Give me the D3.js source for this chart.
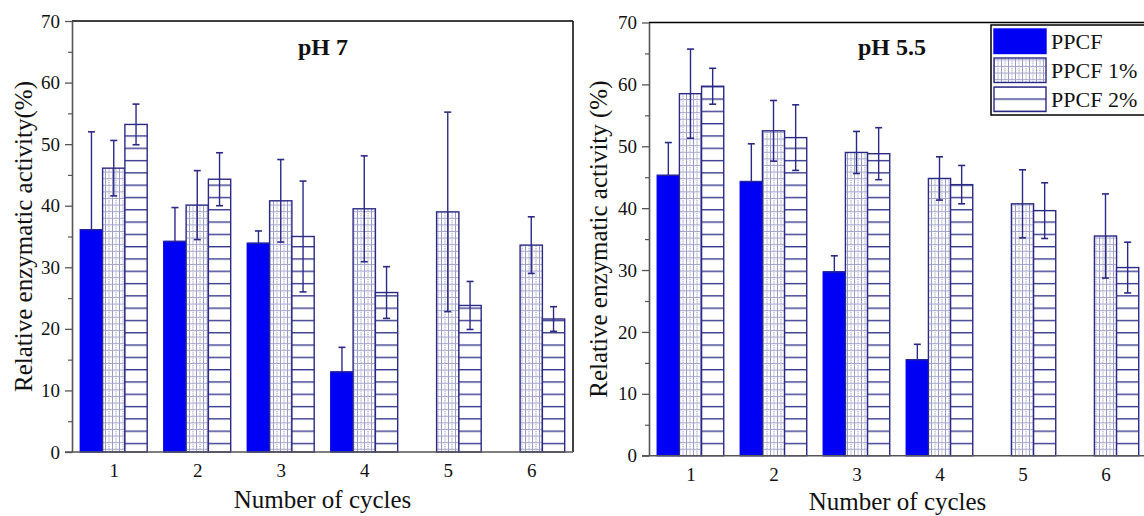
<!DOCTYPE html>
<html>
<head>
<meta charset="utf-8">
<script src="https://cdn.jsdelivr.net/npm/d3@7"></script>
<style>
  html, body { margin: 0; padding: 0; background: #fff; }
  svg { display: block; }
  text { font-family: "Liberation Serif", "Times New Roman", serif; fill: #111; }
</style>
</head>
<body>
<svg id="chart" width="1144" height="516"></svg>
<script>
// Reuse cycles on the x axis
const cycles = [1, 2, 3, 4, 5, 6];
const yTicks = [0, 10, 20, 30, 40, 50, 60, 70];
const seriesNames = ["PPCF", "PPCF 1%", "PPCF 2%"];

// Relative enzymatic activity (%) at pH 7 — mean and error
const ph7_ppcf      = [36.1, 34.2, 33.9, 13.0, null, null];
const ph7_ppcf_err  = [15.9, 5.5, 2.0, 4.0, null, null];
const ph7_ppcf1     = [46.1, 40.1, 40.8, 39.5, 39.0, 33.6];
const ph7_ppcf1_err = [4.5, 5.6, 6.7, 8.6, 16.2, 4.6];
const ph7_ppcf2     = [53.2, 44.3, 35.0, 25.9, 23.8, 21.6];
const ph7_ppcf2_err = [3.3, 4.3, 9.0, 4.2, 3.9, 2.0];

// Relative enzymatic activity (%) at pH 5.5 — mean and error
const ph55_ppcf      = [45.3, 44.3, 29.7, 15.5, null, null];
const ph55_ppcf_err  = [5.3, 6.1, 2.6, 2.5, null, null];
const ph55_ppcf1     = [58.5, 52.5, 49.0, 44.8, 40.7, 35.5];
const ph55_ppcf1_err = [7.2, 4.9, 3.4, 3.5, 5.5, 6.8];
const ph55_ppcf2     = [59.7, 51.4, 48.8, 43.8, 39.6, 30.4];
const ph55_ppcf2_err = [2.9, 5.3, 4.2, 3.1, 4.5, 4.1];

const NAVY = "#2a2a86";
const BLUE = "#0000f5";
const AXIS = "#555";

const svg = d3.select("#chart");
svg.append("rect").attr("width", 1144).attr("height", 516).attr("fill", "#fff");

// Fill patterns
const defs = svg.append("defs");
const grid = defs.append("pattern").attr("id", "pat-grid")
  .attr("patternUnits", "userSpaceOnUse").attr("width", 7).attr("height", 6.6);
grid.append("rect").attr("width", 7).attr("height", 6.6).attr("fill", "#fff");
grid.append("line").attr("x1", 0.5).attr("x2", 0.5).attr("y1", 0).attr("y2", 6.6)
  .attr("stroke", "#9a9ac6").attr("stroke-width", 1);
grid.append("line").attr("x1", 4).attr("x2", 4).attr("y1", 0).attr("y2", 6.6)
  .attr("stroke", "#6a6a9c").attr("stroke-width", 0.8).attr("stroke-dasharray", "1,1");
grid.append("line").attr("x1", 0).attr("x2", 7).attr("y1", 0.5).attr("y2", 0.5)
  .attr("stroke", "#a4a4cc").attr("stroke-width", 1);

const hatch = defs.append("pattern").attr("id", "pat-hline")
  .attr("patternUnits", "userSpaceOnUse").attr("width", 10).attr("height", 12.3);
hatch.append("rect").attr("width", 10).attr("height", 12.3).attr("fill", "#fff");
hatch.append("line").attr("x1", 0).attr("x2", 10).attr("y1", 0.7).attr("y2", 0.7)
  .attr("stroke", NAVY).attr("stroke-width", 1.3);

const fills = [BLUE, "url(#pat-grid)", "url(#pat-hline)"];

function panel(opt) {
  const g = svg.append("g");
  const x = d3.scaleLinear().domain([0.5, 6.5]).range([opt.left, opt.right]);
  const y = d3.scaleLinear().domain([0, 70]).range([opt.bottom, opt.top]);
  const bw = x(0.5 + 0.267) - x(0.5); // one bar width

  const series = [
    { v: opt.s0, e: opt.e0 },
    { v: opt.s1, e: opt.e1 },
    { v: opt.s2, e: opt.e2 }
  ];

  // bars
  series.forEach((s, si) => {
    const data = cycles.map((c, i) => ({ c, v: s.v[i], e: s.e[i] })).filter(d => d.v != null);
    g.selectAll(null).data(data).enter().append("rect")
      .attr("x", d => x(d.c) + (si - 1.5) * bw)
      .attr("width", bw)
      .attr("y", d => y(d.v))
      .attr("height", d => y(0) - y(d.v))
      .attr("fill", fills[si])
      .attr("stroke", si === 0 ? BLUE : NAVY)
      .attr("stroke-width", 1.4);
    if (si === 0) {
      g.selectAll(null).data(data).enter().append("line")
        .attr("x1", d => x(d.c) - 1.5 * bw).attr("x2", d => x(d.c) - 0.5 * bw)
        .attr("y1", d => y(d.v)).attr("y2", d => y(d.v))
        .attr("stroke", NAVY).attr("stroke-width", 1.2);
    }
  });

  // error bars (the solid bars hide their lower half)
  series.forEach((s, si) => {
    const data = cycles.map((c, i) => ({ c, v: s.v[i], e: s.e[i] })).filter(d => d.v != null);
    const cx = d => x(d.c) + (si - 1) * bw;
    const lowVal = d => si === 0 ? d.v : d.v - d.e;
    const eb = g.selectAll(null).data(data).enter().append("g");
    eb.append("line").attr("x1", cx).attr("x2", cx)
      .attr("y1", d => y(lowVal(d))).attr("y2", d => y(d.v + d.e))
      .attr("stroke", NAVY).attr("stroke-width", 1.4);
    eb.append("line").attr("x1", d => cx(d) - 3.5).attr("x2", d => cx(d) + 3.5)
      .attr("y1", d => y(d.v + d.e)).attr("y2", d => y(d.v + d.e))
      .attr("stroke", NAVY).attr("stroke-width", 1.6);
    if (si !== 0) {
      eb.append("line").attr("x1", d => cx(d) - 3.5).attr("x2", d => cx(d) + 3.5)
        .attr("y1", d => y(d.v - d.e)).attr("y2", d => y(d.v - d.e))
        .attr("stroke", NAVY).attr("stroke-width", 1.6);
    }
  });

  // frame: top & right in black
  g.append("line").attr("x1", opt.left).attr("x2", opt.right).attr("y1", opt.top).attr("y2", opt.top)
    .attr("stroke", "#000").attr("stroke-width", 1.5);
  g.append("line").attr("x1", opt.right).attr("x2", opt.right).attr("y1", opt.top).attr("y2", opt.bottom)
    .attr("stroke", "#000").attr("stroke-width", 1.5);

  // y axis
  const yAxis = g.append("g").attr("transform", `translate(${opt.left},0)`)
    .call(d3.axisLeft(y).tickValues(yTicks).tickSize(7).tickSizeOuter(0).tickPadding(5));
  yAxis.select(".domain").attr("stroke", AXIS).attr("stroke-width", 1.6);
  yAxis.selectAll(".tick line").attr("stroke", AXIS).attr("stroke-width", 1.3);
  yAxis.selectAll(".tick text").attr("font-size", 19).attr("fill", "#222")
    .attr("font-family", "Liberation Serif");
  const minor = d3.range(5, 70, 10);
  g.append("g").attr("transform", `translate(${opt.left},0)`)
    .call(d3.axisLeft(y).tickValues(minor).tickSize(4).tickFormat(""))
    .call(a => a.select(".domain").remove())
    .selectAll(".tick line").attr("stroke", AXIS).attr("stroke-width", 1.2);

  // x axis
  const xAxis = g.append("g").attr("transform", `translate(0,${opt.bottom})`)
    .call(d3.axisBottom(x).tickValues(cycles).tickFormat(d3.format("d"))
      .tickSize(0).tickSizeOuter(0).tickPadding(12));
  xAxis.select(".domain").attr("stroke", AXIS).attr("stroke-width", 1.6)
    .attr("d", `M${opt.left - 7},0H${opt.right}`);
  xAxis.selectAll(".tick text").attr("font-size", 19).attr("fill", "#222")
    .attr("font-family", "Liberation Serif");

  // titles
  g.append("text").attr("x", opt.titleX).attr("y", 55)
    .attr("font-size", 24).attr("font-weight", "bold").text(opt.title);
  g.append("text").attr("x", (opt.left + Math.min(opt.right, 1144)) / 2 + opt.xLabelShift).attr("y", opt.xLabelY)
    .attr("text-anchor", "middle").attr("font-size", 25).text("Number of cycles");
  g.append("text")
    .attr("transform", `translate(${opt.yLabelX},${(opt.top + opt.bottom) / 2}) rotate(-90)`)
    .attr("text-anchor", "middle").attr("font-size", 25).text(opt.yLabel);
}

panel({
  left: 72, right: 573, top: 21, bottom: 452,
  s0: ph7_ppcf, e0: ph7_ppcf_err, s1: ph7_ppcf1, e1: ph7_ppcf1_err, s2: ph7_ppcf2, e2: ph7_ppcf2_err,
  title: "pH 7", titleX: 298, xLabelY: 508, xLabelShift: 0, yLabelX: 32,
  yLabel: "Relative enzymatic activity(%)"
});
panel({
  left: 649, right: 1147, top: 22.5, bottom: 455.7,
  s0: ph55_ppcf, e0: ph55_ppcf_err, s1: ph55_ppcf1, e1: ph55_ppcf1_err, s2: ph55_ppcf2, e2: ph55_ppcf2_err,
  title: "pH 5.5", titleX: 858, xLabelY: 510, xLabelShift: 1, yLabelX: 607,
  yLabel: "Relative enzymatic activity (%)"
});

// legend
const legend = svg.append("g");
legend.append("rect").attr("x", 991).attr("y", 25).attr("width", 160).attr("height", 90)
  .attr("fill", "#fff").attr("stroke", "#000").attr("stroke-width", 1.5);
const legY = [29, 58, 87];
seriesNames.forEach((name, i) => {
  legend.append("rect").attr("x", 994).attr("y", legY[i]).attr("width", 52).attr("height", 24.5)
    .attr("fill", fills[i]).attr("stroke", i === 0 ? BLUE : NAVY).attr("stroke-width", 1.4);
  legend.append("text").attr("x", 1051).attr("y", legY[i] + 20)
    .attr("font-size", 22).text(name);
});
</script>
</body>
</html>
